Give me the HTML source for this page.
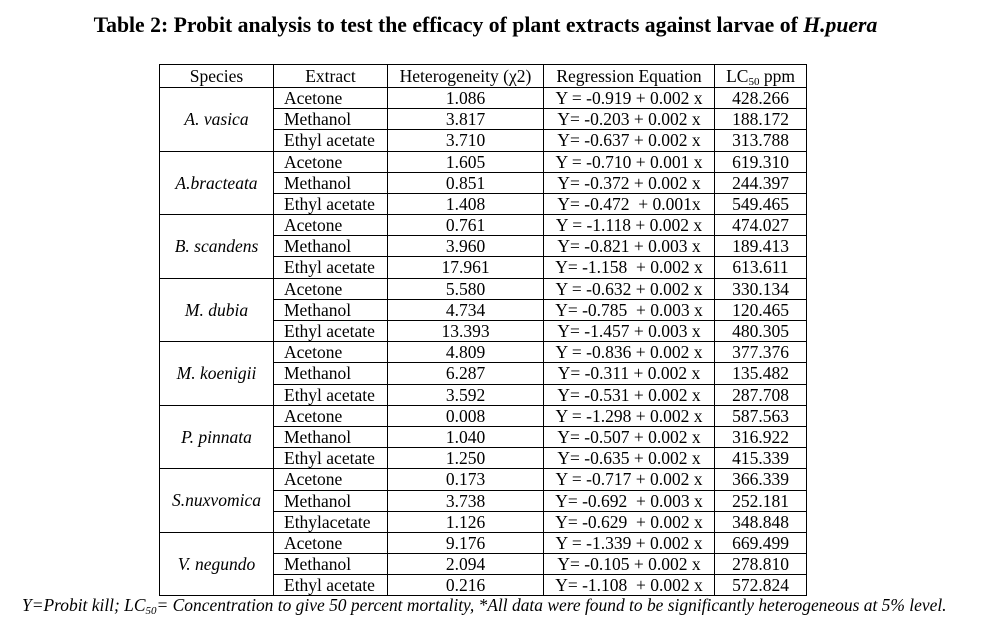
<!DOCTYPE html>
<html><head><meta charset="utf-8"><style>
body{margin:0;background:#fff;width:1007px;height:629px;position:relative;font-family:"Liberation Serif",serif;color:#000;overflow:hidden}
.t{position:absolute;top:13px;left:-18px;width:1007px;text-align:center;font-weight:bold;font-size:21.7px}
table{position:absolute;left:159px;top:64px;border-collapse:collapse;font-size:17.5px}
td{border:1px solid #000;padding:0;height:20px;line-height:19px;white-space:nowrap}
tr.h td{height:22px;line-height:19px;text-align:center}
tr.l td{height:21px}
sub{font-size:11px;line-height:0;vertical-align:-3px}
td.s{text-align:center;font-style:italic}
td.e{padding-left:10px;text-align:left}
td.c{text-align:center}
.f{position:absolute;left:22px;top:595px;font-style:italic;font-size:17.45px;white-space:nowrap}
</style></head><body>
<div class="t">Table 2: Probit analysis to test the efficacy of plant extracts against larvae of <i>H.puera</i></div>
<table>
<colgroup><col style="width:114px"><col style="width:114px"><col style="width:156px"><col style="width:171px"><col style="width:92px"></colgroup>
<tr class="h"><td>Species</td><td>Extract</td><td>Heterogeneity (χ2)</td><td>Regression Equation</td><td>LC<sub>50</sub> ppm</td></tr>
<tr><td class="s" rowspan="3">A. vasica</td><td class="e">Acetone</td><td class="c">1.086</td><td class="c">Y = -0.919 + 0.002 x</td><td class="c">428.266</td></tr>
<tr><td class="e">Methanol</td><td class="c">3.817</td><td class="c">Y= -0.203 + 0.002 x</td><td class="c">188.172</td></tr>
<tr class="l"><td class="e">Ethyl acetate</td><td class="c">3.710</td><td class="c">Y= -0.637 + 0.002 x</td><td class="c">313.788</td></tr>
<tr><td class="s" rowspan="3">A.bracteata</td><td class="e">Acetone</td><td class="c">1.605</td><td class="c">Y = -0.710 + 0.001 x</td><td class="c">619.310</td></tr>
<tr><td class="e">Methanol</td><td class="c">0.851</td><td class="c">Y= -0.372 + 0.002 x</td><td class="c">244.397</td></tr>
<tr><td class="e">Ethyl acetate</td><td class="c">1.408</td><td class="c">Y= -0.472 &nbsp;+ 0.001x</td><td class="c">549.465</td></tr>
<tr><td class="s" rowspan="3">B. scandens</td><td class="e">Acetone</td><td class="c">0.761</td><td class="c">Y = -1.118 + 0.002 x</td><td class="c">474.027</td></tr>
<tr><td class="e">Methanol</td><td class="c">3.960</td><td class="c">Y= -0.821 + 0.003 x</td><td class="c">189.413</td></tr>
<tr class="l"><td class="e">Ethyl acetate</td><td class="c">17.961</td><td class="c">Y= -1.158 &nbsp;+ 0.002 x</td><td class="c">613.611</td></tr>
<tr><td class="s" rowspan="3">M. dubia</td><td class="e">Acetone</td><td class="c">5.580</td><td class="c">Y = -0.632 + 0.002 x</td><td class="c">330.134</td></tr>
<tr><td class="e">Methanol</td><td class="c">4.734</td><td class="c">Y= -0.785 &nbsp;+ 0.003 x</td><td class="c">120.465</td></tr>
<tr><td class="e">Ethyl acetate</td><td class="c">13.393</td><td class="c">Y= -1.457 + 0.003 x</td><td class="c">480.305</td></tr>
<tr><td class="s" rowspan="3">M. koenigii</td><td class="e">Acetone</td><td class="c">4.809</td><td class="c">Y = -0.836 + 0.002 x</td><td class="c">377.376</td></tr>
<tr class="l"><td class="e">Methanol</td><td class="c">6.287</td><td class="c">Y= -0.311 + 0.002 x</td><td class="c">135.482</td></tr>
<tr><td class="e">Ethyl acetate</td><td class="c">3.592</td><td class="c">Y= -0.531 + 0.002 x</td><td class="c">287.708</td></tr>
<tr><td class="s" rowspan="3">P. pinnata</td><td class="e">Acetone</td><td class="c">0.008</td><td class="c">Y = -1.298 + 0.002 x</td><td class="c">587.563</td></tr>
<tr><td class="e">Methanol</td><td class="c">1.040</td><td class="c">Y= -0.507 + 0.002 x</td><td class="c">316.922</td></tr>
<tr><td class="e">Ethyl acetate</td><td class="c">1.250</td><td class="c">Y= -0.635 + 0.002 x</td><td class="c">415.339</td></tr>
<tr class="l"><td class="s" rowspan="3">S.nuxvomica</td><td class="e">Acetone</td><td class="c">0.173</td><td class="c">Y = -0.717 + 0.002 x</td><td class="c">366.339</td></tr>
<tr><td class="e">Methanol</td><td class="c">3.738</td><td class="c">Y= -0.692 &nbsp;+ 0.003 x</td><td class="c">252.181</td></tr>
<tr><td class="e">Ethylacetate</td><td class="c">1.126</td><td class="c">Y= -0.629 &nbsp;+ 0.002 x</td><td class="c">348.848</td></tr>
<tr><td class="s" rowspan="3">V. negundo</td><td class="e">Acetone</td><td class="c">9.176</td><td class="c">Y = -1.339 + 0.002 x</td><td class="c">669.499</td></tr>
<tr><td class="e">Methanol</td><td class="c">2.094</td><td class="c">Y= -0.105 + 0.002 x</td><td class="c">278.810</td></tr>
<tr><td class="e">Ethyl acetate</td><td class="c">0.216</td><td class="c">Y= -1.108 &nbsp;+ 0.002 x</td><td class="c">572.824</td></tr>
</table>
<div class="f">Y=Probit kill; LC<sub>50</sub>= Concentration to give 50 percent mortality, *All data were found to be significantly heterogeneous at 5% level.</div>
</body></html>
